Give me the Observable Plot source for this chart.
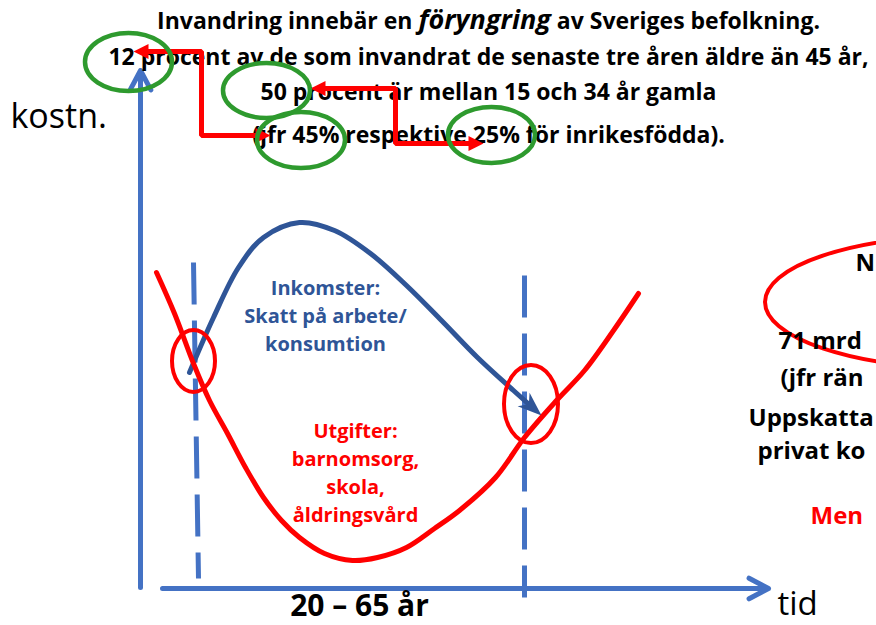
<!DOCTYPE html>
<html>
<head>
<meta charset="utf-8">
<script src="https://cdn.jsdelivr.net/npm/d3@7"></script>
<script src="https://cdn.jsdelivr.net/npm/@observablehq/plot@0.6"></script>
<style>
  html, body { margin: 0; padding: 0; background: #fff; overflow: hidden; }
  #chart svg { display: block; overflow: hidden; }
</style>
</head>
<body>
<div id="chart"></div>
<script>
// ---------- data (diagram coordinates: x = tid, y = downward position) ----------
const incomeCurve = [[189,372],[213,317],[238,267],[263,237],[299,222],[334,230],[370,253],[406,285],[441,320],[477,357],[513,390],[541,415]];
const costCurve = [[156,272],[174,313],[193,363],[209,400],[227,433],[245,467],[263,497],[281,520],[299,537],[324,553],[352,560],[377,557],[406,547],[434,528],[459,510],[495,477],[524,437],[556,400],[584,370],[613,330],[638,293]];

const axisFrom = [[140,587],[162,588]];
const axisTo   = [[140,70],[768,588]];

const dividerFrom = [[193,262],[524,275]];
const dividerTo   = [[198,578],[524,597]];

// ellipses: [cx, cy, rx, ry]
const crossingRings = [[193.5,361,21.5,31],[531,404,27,39]];
const highlightRings = [[128.5,62,43.5,29],[266.5,90.5,43.5,27.5],[301,140,44,28],[491.5,135,43.5,28]];
const sideRing = [[965,302,200,66]];

// elbow connectors (both ends arrowed)
const connectors = [
  [[133,51],[201,51],[201,135],[270,135]],
  [[310,88],[395,88],[395,143],[483,143]]
];

// texts
const titleLines = [
  "Invandring innebär en föryngring av Sveriges befolkning.",
  "12 procent av de som invandrat de senaste tre åren äldre än 45 år,",
  "50 procent är mellan 15 och 34 år gamla",
  "(jfr 45% respektive 25% för inrikesfödda)."
];
const emphasisWord = "föryngring";
const incomeLabel = ["Inkomster:", "Skatt på arbete/", "konsumtion"];
const costLabel = ["Utgifter:", "barnomsorg,", "skola,", "åldringsvård"];
const sideNote = ["N", "71 mrd", "(jfr rän", "Uppskatta", "privat ko"];
const sideNoteRed = ["Men"];
const yAxisLabel = "kostn.";
const xAxisLabel = "tid";
const spanLabel = "20 – 65 år";

// ---------- layout ----------
const titleX = 488, titleBase = [28, 64, 99, 142];
const incomeX = 325, incomeBase = [294, 322, 350];
const costX = 355, costBase = [437, 465, 493, 521];
const sideX = [855, 778, 780, 748, 757], sideBase = [270, 348, 385, 425, 458];
const sideRedX = [810], sideRedBase = [523];

const AXIS_BLUE = "#4472C4", DARK_BLUE = "#2F5597", RED = "#FF0000", GREEN = "#2E9A2E";
const FONT = "'Open Sans', Lato, sans-serif";

// ---------- helpers ----------
const unit = (a, b) => { const dx = b[0]-a[0], dy = b[1]-a[1], l = Math.hypot(dx, dy); return [dx/l, dy/l]; };
const angleOf = (u) => Math.atan2(u[0], -u[1]) * 180 / Math.PI;
const headSymbol = (len, half, notch = 0) => ({
  draw(ctx) { ctx.moveTo(0, 0); ctx.lineTo(half, len); ctx.lineTo(0, len - notch); ctx.lineTo(-half, len); ctx.closePath(); }
});
const toRect = ([cx, cy, rx, ry]) => ({x1: cx - rx, x2: cx + rx, y1: cy - ry, y2: cy + ry});

// income curve trimmed before its arrow head
const n = incomeCurve.length;
const incomeDir = unit(incomeCurve[n-2], incomeCurve[n-1]);
const incomeTip = incomeCurve[n-1];
const incomeLine = incomeCurve.slice(0, n-1).concat([[incomeTip[0] - incomeDir[0]*12, incomeTip[1] - incomeDir[1]*12]]);
const incomeHead = [{x: incomeTip[0], y: incomeTip[1], a: angleOf(incomeDir)}];

// connectors trimmed at both ends, heads at both tips
const HL = 14;
const connectorRows = [], connectorHeads = [];
connectors.forEach((pts, k) => {
  const m = pts.length;
  const uS = unit(pts[1], pts[0]), uE = unit(pts[m-2], pts[m-1]);
  const trimmed = pts.map(p => p.slice());
  trimmed[0] = [pts[0][0] - uS[0]*HL, pts[0][1] - uS[1]*HL];
  trimmed[m-1] = [pts[m-1][0] - uE[0]*HL, pts[m-1][1] - uE[1]*HL];
  trimmed.forEach(([x, y]) => connectorRows.push({k, x, y}));
  connectorHeads.push({x: pts[0][0], y: pts[0][1], a: angleOf(uS)});
  connectorHeads.push({x: pts[m-1][0], y: pts[m-1][1], a: angleOf(uE)});
});

const axes = axisFrom.map((p, i) => ({x1: p[0], y1: p[1], x2: axisTo[i][0], y2: axisTo[i][1]}));
const dividers = dividerFrom.map((p, i) => ({x1: p[0], y1: p[1], x2: dividerTo[i][0], y2: dividerTo[i][1]}));
const rows = (texts, xs, ys) => texts.map((t, i) => ({t, x: Array.isArray(xs) ? xs[i] : xs, y: ys[i]}));

const chart = Plot.plot({
  width: 876,
  height: 625,
  margin: 0,
  x: {domain: [0, 876], range: [0, 876], axis: null},
  y: {domain: [0, 625], range: [0, 625], axis: null},
  style: {background: "#fff", fontFamily: FONT},
  marks: [
    // axes
    Plot.arrow(axes, {x1: "x1", y1: "y1", x2: "x2", y2: "y2", stroke: AXIS_BLUE, strokeWidth: 5, headLength: 6.6, headAngle: 56, strokeLinecap: "round", strokeLinejoin: "round"}),
    // dashed age limits
    Plot.link(dividers, {x1: "x1", y1: "y1", x2: "x2", y2: "y2", stroke: AXIS_BLUE, strokeWidth: 5, strokeDasharray: "42,16"}),
    // curves
    Plot.line(incomeLine, {x: d => d[0], y: d => d[1], curve: "catmull-rom", stroke: DARK_BLUE, strokeWidth: 5}),
    Plot.dot(incomeHead, {x: "x", y: "y", rotate: "a", symbol: headSymbol(24, 9, 7), fill: DARK_BLUE, stroke: "none"}),
    Plot.line(costCurve, {x: d => d[0], y: d => d[1], curve: "catmull-rom", stroke: RED, strokeWidth: 5}),
    // rings
    Plot.rect(crossingRings.map(toRect), {x1: "x1", x2: "x2", y1: "y1", y2: "y2", rx: 999, ry: 999, fill: "none", stroke: RED, strokeWidth: 4}),
    Plot.rect(sideRing.map(toRect), {x1: "x1", x2: "x2", y1: "y1", y2: "y2", rx: 999, ry: 999, fill: "none", stroke: RED, strokeWidth: 4, clip: true}),
    // labels in the chart
    Plot.text(rows(incomeLabel, incomeX, incomeBase), {x: "x", y: "y", text: "t", fill: DARK_BLUE, fontSize: 20, fontWeight: "bold", lineAnchor: "bottom", textAnchor: "middle"}),
    Plot.text(rows(costLabel, costX, costBase), {x: "x", y: "y", text: "t", fill: RED, fontSize: 20, fontWeight: "bold", lineAnchor: "bottom", textAnchor: "middle"}),
    Plot.text(rows(sideNote, sideX, sideBase), {x: "x", y: "y", text: "t", fill: "#000", fontSize: 24, fontWeight: "bold", lineAnchor: "bottom", textAnchor: "start"}),
    Plot.text(rows(sideNoteRed, sideRedX, sideRedBase), {x: "x", y: "y", text: "t", fill: RED, fontSize: 24, fontWeight: "bold", lineAnchor: "bottom", textAnchor: "start"}),
    Plot.text([yAxisLabel], {x: 10, y: 127, text: d => d, fill: "#000", fontSize: 34, lineAnchor: "bottom", textAnchor: "start"}),
    Plot.text([xAxisLabel], {x: 777, y: 614, text: d => d, fill: "#000", fontSize: 33, lineAnchor: "bottom", textAnchor: "start"}),
    Plot.text([spanLabel], {x: 359, y: 615, text: d => d, fill: "#000", fontSize: 30, fontWeight: "bold", lineAnchor: "bottom", textAnchor: "middle"}),
    // title block
    Plot.text(rows(titleLines, titleX, titleBase), {x: "x", y: "y", text: "t", fill: "#000", fontSize: 23, fontWeight: "bold", lineAnchor: "bottom", textAnchor: "middle"}),
    // connectors and highlight rings on top of the title
    Plot.line(connectorRows, {x: "x", y: "y", z: "k", stroke: RED, strokeWidth: 5, strokeLinejoin: "miter", curve: "linear"}),
    Plot.dot(connectorHeads, {x: "x", y: "y", rotate: "a", symbol: headSymbol(15, 7.5), fill: RED, stroke: "none"}),
    Plot.rect(highlightRings.map(toRect), {x1: "x1", x2: "x2", y1: "y1", y2: "y2", rx: 999, ry: 999, fill: "none", stroke: GREEN, strokeWidth: 4.5})
  ]
});

document.getElementById("chart").appendChild(chart);

// mixed styling in the first title line (italic emphasised word)
d3.select(chart).selectAll("text").filter(function () { return this.textContent === titleLines[0]; })
  .each(function () {
    const el = d3.select(this);
    const parts = titleLines[0].split(emphasisWord);
    el.text(null);
    el.append("tspan").text(parts[0]);
    el.append("tspan").attr("font-style", "italic").attr("font-size", 27).text(emphasisWord);
    el.append("tspan").text(parts[1]);
  });
</script>
</body>
</html>
